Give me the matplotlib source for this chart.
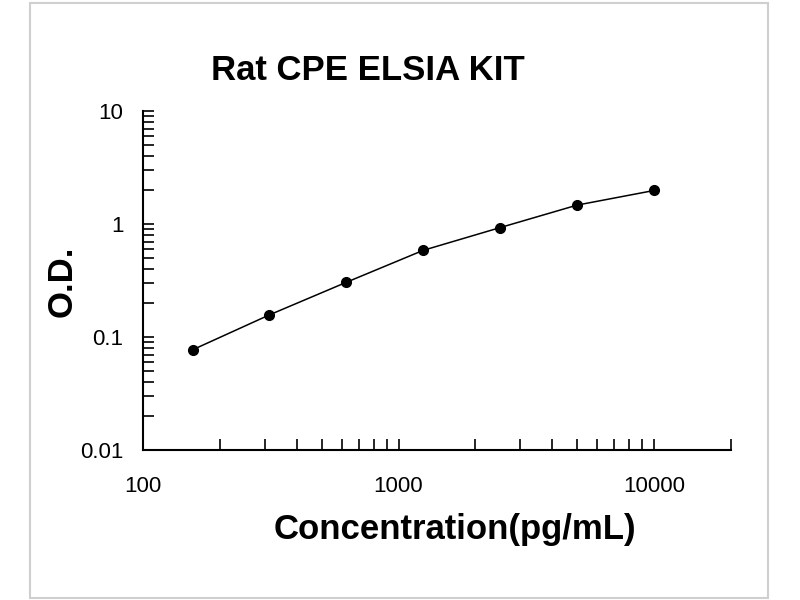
import matplotlib
matplotlib.use("Agg")
import matplotlib.pyplot as plt
from matplotlib.patches import Rectangle
from matplotlib.ticker import LogLocator, FixedLocator, FixedFormatter, NullFormatter

conc = [156.25, 312.5, 625, 1250, 2500, 5000, 10000]
od = [0.077, 0.157, 0.305, 0.585, 0.93, 1.47, 1.98]
xticks = [100, 1000, 10000]
xticklabels = ["100", "1000", "10000"]
yticks = [0.01, 0.1, 1, 10]
yticklabels = ["0.01", "0.1", "1", "10"]

plt.rcParams['font.family'] = ['Liberation Sans', 'DejaVu Sans']

fig = plt.figure(figsize=(8, 6), dpi=100)
fig.patches.append(Rectangle((30/800, 2/600), 738/800, 595/600, transform=fig.transFigure,
                             fill=False, edgecolor='#cfcfcf', linewidth=1.5))
ax = fig.add_axes([143/800, 1 - 450/600, (731 - 143)/800, (450 - 111)/600])

ax.plot(conc, od, color='black', linewidth=1.1, marker='o', markersize=7,
        markerfacecolor='black', markeredgecolor='black')

ax.set_xscale('log')
ax.set_yscale('log')
ax.set_xlim(100, 20000)
ax.set_ylim(0.01, 10)

ax.xaxis.set_major_locator(FixedLocator(xticks))
ax.xaxis.set_major_formatter(FixedFormatter(xticklabels))
ax.xaxis.set_minor_locator(LogLocator(base=10, subs=range(2, 10), numticks=20))
ax.xaxis.set_minor_formatter(NullFormatter())
ax.yaxis.set_major_locator(FixedLocator(yticks))
ax.yaxis.set_major_formatter(FixedFormatter(yticklabels))
ax.yaxis.set_minor_locator(LogLocator(base=10, subs=range(2, 10), numticks=20))
ax.yaxis.set_minor_formatter(NullFormatter())

ax.tick_params(axis='both', which='both', direction='in', length=8, width=1.2, color='black')
ax.tick_params(axis='x', which='major', pad=19, labelsize=16)
ax.tick_params(axis='y', which='major', pad=14, labelsize=16)

for s in ['top', 'right']:
    ax.spines[s].set_visible(False)
for s in ['left', 'bottom']:
    ax.spines[s].set_linewidth(1.5)

ax.set_xlabel("Concentration(pg/mL)", fontsize=25, fontweight='bold')
ax.xaxis.set_label_coords((455 - 143)/588, (450 - 530)/339)
ax.xaxis.label.set_va('center')
ax.set_ylabel("O.D.", fontsize=25, fontweight='bold')
ax.yaxis.set_label_coords((62 - 143)/588, (450 - 281)/339)
ax.yaxis.label.set_va('center')
fig.text(368/800, 1 - 71/600, "Rat CPE ELSIA KIT", fontsize=25, fontweight='bold',
         ha='center', va='center')

fig.savefig("out.png", dpi=100, facecolor='white')
